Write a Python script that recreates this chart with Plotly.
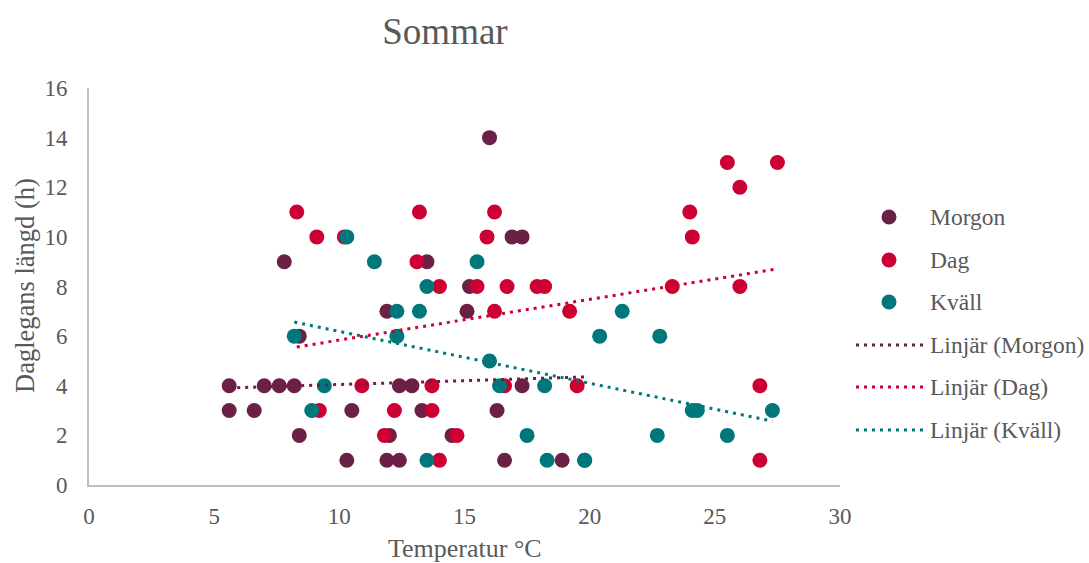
import plotly.graph_objects as go

# ---- data ----
morgon_x = [5.6, 5.6, 6.6, 7.0, 7.6, 8.2, 7.8, 8.4, 8.4, 10.3, 10.5, 11.9, 12.0, 11.9, 12.4,
            12.4, 12.9, 13.3, 13.5, 15.2, 15.1, 16.9, 17.3, 16.0, 17.3, 16.3, 16.6, 18.9, 14.5, 19.8]
morgon_y = [4, 3, 3, 4, 4, 4, 9, 6, 2, 1, 3, 7, 2, 1, 1,
            4, 4, 3, 9, 8, 7, 10, 10, 14, 4, 3, 1, 1, 2, 1]

dag_x = [8.3, 9.1, 10.2, 13.1, 13.2, 9.2, 10.9, 11.8, 12.2, 13.7, 13.7, 14.7, 14.0, 14.0, 15.5,
         16.2, 16.2, 15.9, 16.7, 17.9, 18.2, 19.2, 16.6, 19.5, 23.3, 24.0, 24.1, 25.5, 26.0, 26.0,
         27.5, 26.8, 26.8]
dag_y = [11, 10, 10, 9, 11, 3, 4, 2, 3, 3, 4, 2, 1, 8, 8,
         7, 11, 10, 8, 8, 8, 7, 4, 4, 8, 11, 10, 13, 12, 8,
         13, 4, 1]

kvall_x = [8.2, 10.3, 11.4, 8.9, 9.4, 12.3, 13.2, 12.3, 13.5, 15.5, 16.0, 16.4, 18.2, 13.5, 17.5,
           18.3, 19.8, 20.4, 21.3, 22.8, 22.7, 24.1, 24.3, 25.5, 27.3]
kvall_y = [6, 10, 9, 3, 4, 7, 7, 6, 8, 9, 5, 4, 4, 1, 2,
           1, 1, 6, 7, 6, 2, 3, 3, 2, 3]

# linear trend lines (intercept, slope)
trend_morgon = [3.74, 0.031]
trend_dag = [4.20, 0.164]
trend_kvall = [8.28, -0.209]

series_names = ["Morgon", "Dag", "Kväll"]
trend_names = ["Linjär (Morgon)", "Linjär (Dag)", "Linjär (Kväll)"]
colors = ["#6B2046", "#CC0033", "#00777B"]

font_family = "Liberation Serif, Times New Roman, serif"
gray = "#595959"
DOT = "3px,5px"

fig = go.Figure()
xs = [morgon_x, dag_x, kvall_x]
ys = [morgon_y, dag_y, kvall_y]
trends = [trend_morgon, trend_dag, trend_kvall]

for i in range(3):
    fig.add_trace(go.Scatter(
        x=xs[i], y=ys[i], mode="markers", name=series_names[i],
        marker=dict(size=15, color=colors[i], line=dict(width=0)),
        showlegend=False,
    ))

for i in range(3):
    x0, x1 = min(xs[i]), max(xs[i])
    b, m = trends[i]
    fig.add_trace(go.Scatter(
        x=[x0, x1], y=[b + m * x0, b + m * x1], mode="lines",
        name=trend_names[i],
        line=dict(color=colors[i], width=3, dash=DOT),
        showlegend=False,
    ))

# ---- manual legend (paper coordinates) ----
L, R, T, B = 89, 840, 88, 485
W, H = R - L, B - T


def px_x(p):
    return (p - L) / W


def px_y(p):
    return (B - p) / H


legend_rows = [217, 260, 302, 345, 387, 430]
legend_labels = series_names + trend_names
shapes = []
annotations = []
for k, row in enumerate(legend_rows):
    c = colors[k % 3]
    yy = px_y(row)
    if k < 3:
        shapes.append(dict(type="circle", xref="paper", yref="paper",
                           xsizemode="pixel", ysizemode="pixel",
                           xanchor=px_x(889), yanchor=yy,
                           x0=-7.5, x1=7.5, y0=-7.5, y1=7.5,
                           fillcolor=c, line=dict(width=0)))
    else:
        shapes.append(dict(type="line", xref="paper", yref="paper",
                           x0=px_x(856), x1=px_x(923), y0=yy, y1=yy,
                           line=dict(color=c, width=3, dash=DOT)))
    annotations.append(dict(text=legend_labels[k], xref="paper", yref="paper",
                            x=px_x(929), y=yy, xanchor="left", yanchor="middle",
                            borderpad=0,
                            showarrow=False, font=dict(size=23.5, color=gray, family=font_family)))

# axis titles
annotations.append(dict(text="Temperatur °C", xref="paper", yref="paper",
                        x=px_x(465), y=px_y(548), xanchor="center", yanchor="middle",
                        borderpad=0,
                        showarrow=False, font=dict(size=26, color=gray, family=font_family)))
annotations.append(dict(text="Daglegans längd (h)", xref="paper", yref="paper",
                        x=px_x(25), y=px_y(286), xanchor="center", yanchor="middle",
                        textangle=-90, borderpad=0,
                        showarrow=False, font=dict(size=26.5, color=gray, family=font_family)))

fig.update_layout(
    width=1089, height=563,
    margin=dict(l=L, r=1089 - R, t=T, b=563 - B, autoexpand=False),
    paper_bgcolor="white", plot_bgcolor="white",
    font=dict(family=font_family, color=gray, size=23),
    title=dict(text="Sommar", font=dict(size=37, color=gray, family=font_family),
               x=445 / 1089, xref="container", xanchor="center",
               y=1 - 31 / 563, yref="container", yanchor="middle"),
    xaxis=dict(range=[0, 30], dtick=5, tick0=0, showgrid=False, zeroline=False,
               showline=True, linecolor="#BFBFBF", linewidth=2, ticks="",
               ticklabelstandoff=9,
               tickfont=dict(size=23, color=gray, family=font_family)),
    yaxis=dict(range=[0, 16], dtick=2, tick0=0, showgrid=False, zeroline=False,
               showline=True, linecolor="#BFBFBF", linewidth=2, ticks="",
               ticklabelstandoff=15,
               tickfont=dict(size=23, color=gray, family=font_family)),
    shapes=shapes,
    annotations=annotations,
    showlegend=False,
)

fig.write_html("out.html")
